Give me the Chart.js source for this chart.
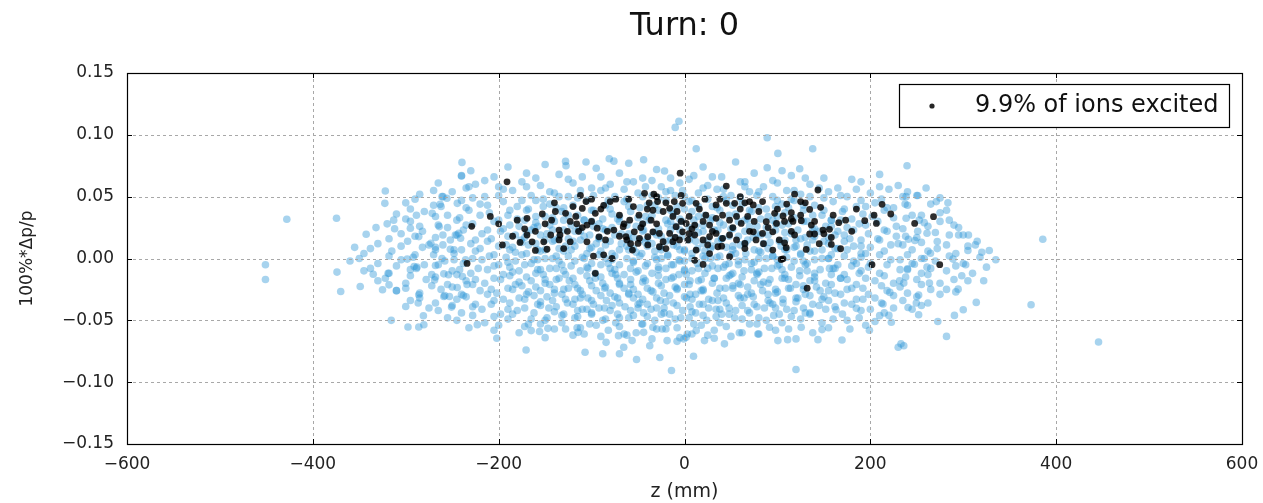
<!DOCTYPE html>
<html>
<head>
<meta charset="utf-8">
<script src="https://cdn.jsdelivr.net/npm/chart.js@4/dist/chart.umd.min.js"></script>
<style>
  html, body { margin: 0; padding: 0; background: #fff; }
  #wrap { width: 1263px; height: 503px; }
</style>
</head>
<body>
<div id="wrap"><canvas id="turnChart"></canvas></div>
<script>
// tick values
const zTicks = [-600, -400, -200, 0, 200, 400, 600];
const dpTicks = [-0.15, -0.10, -0.05, 0.00, 0.05, 0.10, 0.15];
const legendLabel = "9.9% of ions excited";

// excited ions [z (mm), 100%*dp/p]
const excited = [
    [-191, 0.062], [-229, 0.026], [-209, 0.034], [-234, -0.004], [-196, 0.011],
    [-180, 0.031], [-169.5, 0.0325], [-153, 0.036], [-139, 0.038], [-143, 0.031],
    [-128, 0.0365], [-123, 0.030], [-117, 0.034], [-112, 0.051], [-106, 0.046],
    [-110, 0.0405], [-116, 0.028], [-105, 0.027], [-96, 0.0365], [-94, 0.0245],
    [-87, 0.043], [-80, 0.046], [-74, 0.048], [-83, 0.022], [-76, 0.023],
    [-65, 0.028], [-62, 0.015], [-135, 0.023], [-134, 0.019], [-126, 0.022],
    [-114, 0.022], [-105, 0.0135], [-123, 0.0135], [-135, 0.015], [-144, 0.019],
    [-160.5, 0.022], [-169.5, 0.019], [-164, 0.0135], [-177, 0.013], [-151.5, 0.0135],
    [-160.5, 0.0065], [-148, 0.0075], [-98, 0.002], [-87, 0.003], [-78, 0.000],
    [-96, -0.012], [-92, 0.0175], [-85, 0.015],
    [-4.7, 0.069], [45, 0.0586], [-43, 0.0527], [-33, 0.052], [-60, 0.048],
    [-38, 0.045], [-29, 0.046], [-3.6, 0.051], [-2, 0.0446], [-11, 0.046],
    [12.5, 0.0446], [23, 0.035], [34, 0.0433], [45, 0.0446], [54, 0.0446],
    [65, 0.045], [74, 0.0433], [84, 0.046], [97, 0.0365], [106, 0.0344],
    [88, 0.0298], [99, 0.0284], [-59, 0.031], [-49, 0.035], [-45, 0.028],
    [-36, 0.031], [-34, 0.039], [-23, 0.038], [-16, 0.0406], [-12.5, 0.034],
    [-3.6, 0.030], [1.8, 0.0284], [5, 0.034], [11, 0.027], [20, 0.030],
    [27, 0.027], [34, 0.0325], [41, 0.035], [48.5, 0.031], [56, 0.034],
    [61, 0.0284], [68, 0.034], [75, 0.030], [-66, 0.0257], [-63, 0.0176],
    [-54, 0.0216], [-48.5, 0.0163], [-39.5, 0.0176], [-34, 0.0216], [-27, 0.0203],
    [-16, 0.0203], [-9, 0.0257], [-2, 0.0216], [-5.4, 0.015], [3.6, 0.015],
    [11, 0.019], [20, 0.015], [27, 0.0176], [34, 0.0203], [41, 0.0163],
    [48.5, 0.019], [56, 0.015], [65, 0.0122], [74, 0.0216], [77, 0.015],
    [84, 0.0203], [95, 0.0216], [102, 0.015], [-56, 0.0068], [-50, 0.0122],
    [-39.5, 0.011], [-27, 0.0095], [-23, 0.0136], [-12.5, 0.0136], [12.5, 0.0068],
    [25, 0.011], [27, 0.004], [36, 0.0095], [20, -0.0048], [48.5, 0.0014],
    [65, 0.008], [95, 0.0068], [104, -0.0008], [11, -0.0014],
    [118.5, 0.052], [143.6, 0.0554], [125, 0.046], [115, 0.037], [134.7, 0.0397],
    [146.5, 0.0414], [107.7, 0.030], [116.7, 0.030], [125.7, 0.0306], [136.5, 0.027],
    [166, 0.029], [173.4, 0.031], [194, 0.0306], [206.5, 0.0284], [204, 0.035],
    [212.6, 0.0438], [222, 0.036], [247.7, 0.0284], [268, 0.0338], [118.5, 0.019],
    [134.7, 0.0198], [140, 0.0198], [149, 0.023], [156, 0.0236], [158, 0.017],
    [107.7, 0.0127], [109.5, 0.0087], [131, 0.0073], [158, 0.0114], [168, 0.0079],
    [106, -0.0003], [201.8, -0.005], [274.7, -0.005], [132, -0.024],
    [-120, 0.042], [-100, 0.030], [-90, 0.040], [-70, 0.035], [-55, 0.042],
    [-47, 0.025], [-30, 0.028], [-20, 0.045], [-8, 0.038], [8, 0.024],
    [16, 0.040], [30, 0.022], [38, 0.048], [52, 0.025], [60, 0.040],
    [70, 0.022], [80, 0.038], [90, 0.025], [110, 0.044], [115, 0.022],
    [125, 0.035], [140, 0.030], [150, 0.020], [160, 0.035], [180, 0.022],
    [185, 0.040], [-150, 0.028], [-172, 0.024], [-140, 0.045], [-58, 0.012],
    [-20, 0.008], [5, 0.020], [40, 0.010], [85, 0.012], [-185, 0.018],
    [-200, 0.028], [-100, 0.048], [-30, 0.050], [60, 0.050], [130, 0.045],
    [-70, 0.018], [-10, 0.017], [115, 0.032], [-40, 0.040], [22, 0.048],
    [100, 0.040], [145, 0.012], [-130, 0.008], [-110, 0.025], [70, 0.046]
];

// ions, outer body of the bunch
const ionsCore = [
    [-190, 0.074], [-150, 0.076], [-95, 0.073], [-60, 0.077], [-30, 0.072], [20, 0.074], [55, 0.078], [105, 0.071], [-230, 0.071],
    [-240, 0.067], [-205, 0.066], [-170, 0.069], [-135, 0.068], [-110, 0.066], [-70, 0.069], [-45, 0.065], [10, 0.067], [40, 0.066],
    [75, 0.069], [115, 0.067], [150, 0.065], [210, 0.068],
    [-265, 0.061], [-225, 0.060], [-200, 0.058], [-175, 0.062], [-155, 0.059], [-120, 0.061], [-100, 0.057], [-80, 0.060], [-55, 0.062],
    [-25, 0.058], [-5, 0.061], [25, 0.059], [60, 0.062], [85, 0.058], [100, 0.061], [135, 0.060], [165, 0.057], [190, 0.062],
    [230, 0.059], [260, 0.057],
    [-285, 0.052], [-250, 0.054], [-215, 0.050], [-185, 0.055], [-165, 0.051], [-140, 0.053], [-125, 0.050], [-90, 0.055], [-75, 0.050],
    [-50, 0.053], [-35, 0.051], [-15, 0.055], [0, 0.050], [15, 0.053], [35, 0.056], [50, 0.051], [70, 0.054], [95, 0.050],
    [110, 0.055], [125, 0.052], [155, 0.054], [175, 0.050], [200, 0.053], [220, 0.056], [250, 0.051],
    [-300, 0.045], [-270, 0.043], [-240, 0.047], [-220, 0.044], [-195, 0.046], [-180, 0.042], [-160, 0.047], [-145, 0.044], [-130, 0.041],
    [-105, 0.047], [-85, 0.043], [-65, 0.046], [-40, 0.043], [-20, 0.047], [-8, 0.042], [5, 0.046], [30, 0.042], [45, 0.047],
    [62, 0.044], [80, 0.041], [105, 0.044], [118, 0.047], [140, 0.043], [160, 0.046], [185, 0.042], [205, 0.045], [225, 0.041], [265, 0.044],
    [-310, 0.036], [-280, 0.038], [-255, 0.035], [-232, 0.039], [-210, 0.037], [-190, 0.035], [-170, 0.039], [-150, 0.034], [-132, 0.038],
    [-115, 0.035], [-98, 0.039], [-78, 0.036], [-58, 0.038], [-42, 0.034], [-28, 0.039], [-12, 0.036], [8, 0.038], [22, 0.035],
    [38, 0.039], [55, 0.036], [72, 0.038], [90, 0.034], [108, 0.037], [128, 0.039], [148, 0.035], [170, 0.038], [192, 0.036],
    [215, 0.039], [245, 0.035], [275, 0.037],
    [-320, 0.028], [-295, 0.030], [-265, 0.027], [-245, 0.031], [-228, 0.028], [-205, 0.030], [-188, 0.027], [-172, 0.031], [-158, 0.026],
    [-140, 0.030], [-122, 0.027], [-108, 0.031], [-92, 0.028], [-70, 0.030], [-52, 0.026], [-38, 0.031], [-18, 0.028], [-3, 0.030],
    [12, 0.026], [28, 0.031], [42, 0.027], [58, 0.030], [78, 0.026], [95, 0.031], [112, 0.028], [132, 0.030], [152, 0.026],
    [168, 0.031], [188, 0.028], [208, 0.030], [228, 0.026], [258, 0.029], [290, 0.027],
    [-305, 0.020], [-282, 0.022], [-260, 0.019], [-238, 0.023], [-218, 0.020], [-198, 0.022], [-182, 0.019], [-165, 0.023], [-148, 0.020],
    [-135, 0.017], [-118, 0.022], [-102, 0.019], [-85, 0.023], [-68, 0.020], [-55, 0.017], [-45, 0.022], [-30, 0.019], [-15, 0.023],
    [-2, 0.018], [15, 0.021], [32, 0.023], [48, 0.018], [65, 0.022], [82, 0.019], [98, 0.023], [115, 0.020], [130, 0.017],
    [145, 0.022], [162, 0.019], [182, 0.023], [198, 0.020], [218, 0.022], [238, 0.018], [270, 0.021], [300, 0.019],
    [-330, 0.012], [-298, 0.014], [-275, 0.011], [-252, 0.015], [-230, 0.012], [-212, 0.014], [-192, 0.011], [-176, 0.015], [-160, 0.012],
    [-142, 0.014], [-128, 0.010], [-112, 0.015], [-95, 0.012], [-80, 0.014], [-62, 0.010], [-48, 0.015], [-35, 0.012], [-20, 0.014],
    [-8, 0.010], [5, 0.015], [20, 0.012], [36, 0.014], [52, 0.010], [68, 0.015], [85, 0.012], [102, 0.014], [120, 0.010],
    [138, 0.015], [155, 0.012], [172, 0.014], [190, 0.010], [210, 0.015], [230, 0.012], [255, 0.013], [282, 0.011], [315, 0.014],
    [-345, 0.004], [-315, 0.006], [-290, 0.003], [-268, 0.007], [-248, 0.004], [-225, 0.006], [-205, 0.003], [-188, 0.007], [-170, 0.004],
    [-155, 0.006], [-138, 0.002], [-122, 0.007], [-105, 0.004], [-90, 0.006], [-75, 0.002], [-60, 0.007], [-46, 0.004], [-32, 0.006],
    [-18, 0.002], [-5, 0.007], [8, 0.004], [22, 0.006], [38, 0.002], [52, 0.007], [66, 0.004], [80, 0.006], [95, 0.002],
    [110, 0.007], [125, 0.004], [140, 0.006], [158, 0.003], [175, 0.007], [195, 0.004], [215, 0.006], [240, 0.003], [262, 0.006],
    [292, 0.004], [320, 0.005],
    [-360, -0.002], [-330, -0.004], [-305, -0.001], [-280, -0.005], [-258, -0.002], [-238, -0.004], [-218, -0.001], [-200, -0.005], [-182, -0.002],
    [-165, -0.004], [-150, 0.000], [-132, -0.005], [-118, -0.002], [-100, -0.004], [-85, 0.000], [-70, -0.005], [-55, -0.002], [-40, -0.004],
    [-25, 0.000], [-12, -0.005], [0, -0.002], [14, -0.004], [28, 0.000], [44, -0.005], [58, -0.002], [72, -0.004], [88, 0.000],
    [102, -0.005], [118, -0.002], [132, -0.004], [148, 0.000], [165, -0.005], [182, -0.002], [200, -0.004], [222, -0.001], [245, -0.004],
    [270, -0.002], [300, -0.004], [335, -0.001],
    [-345, -0.010], [-318, -0.012], [-295, -0.009], [-272, -0.013], [-250, -0.010], [-230, -0.012], [-212, -0.009], [-195, -0.013], [-178, -0.010],
    [-160, -0.012], [-145, -0.008], [-128, -0.013], [-112, -0.010], [-96, -0.012], [-80, -0.008], [-65, -0.013], [-50, -0.010], [-35, -0.012],
    [-20, -0.008], [-6, -0.013], [8, -0.010], [22, -0.012], [36, -0.008], [50, -0.013], [64, -0.010], [78, -0.012], [94, -0.008],
    [108, -0.013], [124, -0.010], [140, -0.012], [156, -0.008], [172, -0.013], [190, -0.010], [210, -0.012], [232, -0.009], [255, -0.012],
    [282, -0.010], [310, -0.012],
    [-330, -0.018], [-300, -0.020], [-278, -0.017], [-255, -0.021], [-235, -0.018], [-215, -0.020], [-198, -0.017], [-182, -0.021], [-165, -0.018],
    [-150, -0.020], [-135, -0.016], [-118, -0.021], [-102, -0.018], [-88, -0.020], [-72, -0.016], [-58, -0.021], [-42, -0.018], [-28, -0.020],
    [-14, -0.016], [0, -0.021], [15, -0.018], [30, -0.020], [45, -0.016], [60, -0.021], [75, -0.018], [90, -0.020], [105, -0.016],
    [120, -0.021], [135, -0.018], [152, -0.020], [168, -0.016], [185, -0.021], [205, -0.018], [225, -0.020], [250, -0.017], [275, -0.020],
    [305, -0.018],
    [-310, -0.026], [-285, -0.028], [-262, -0.025], [-240, -0.029], [-220, -0.026], [-202, -0.028], [-185, -0.025], [-170, -0.029], [-155, -0.026],
    [-140, -0.028], [-125, -0.024], [-110, -0.029], [-95, -0.026], [-80, -0.028], [-65, -0.024], [-50, -0.029], [-36, -0.026], [-22, -0.028],
    [-8, -0.024], [6, -0.029], [20, -0.026], [35, -0.028], [52, -0.024], [68, -0.029], [84, -0.026], [98, -0.028], [114, -0.024],
    [130, -0.029], [146, -0.026], [162, -0.028], [180, -0.024], [198, -0.029], [218, -0.026], [240, -0.028], [265, -0.025], [292, -0.027],
    [-295, -0.034], [-268, -0.036], [-245, -0.033], [-225, -0.037], [-205, -0.034], [-188, -0.036], [-172, -0.033], [-158, -0.037], [-142, -0.034],
    [-126, -0.036], [-112, -0.032], [-98, -0.037], [-84, -0.034], [-70, -0.036], [-55, -0.032], [-40, -0.037], [-26, -0.034], [-12, -0.036],
    [2, -0.032], [16, -0.037], [30, -0.034], [45, -0.036], [60, -0.032], [75, -0.037], [90, -0.034], [106, -0.036], [122, -0.032],
    [138, -0.037], [155, -0.034], [172, -0.036], [192, -0.033], [212, -0.036], [235, -0.034], [262, -0.036],
    [-265, -0.042], [-240, -0.044], [-218, -0.041], [-198, -0.045], [-180, -0.042], [-162, -0.044], [-146, -0.040], [-130, -0.045], [-115, -0.042],
    [-100, -0.044], [-86, -0.040], [-72, -0.045], [-58, -0.042], [-44, -0.044], [-30, -0.040], [-16, -0.045], [-2, -0.042], [12, -0.044],
    [26, -0.040], [40, -0.045], [55, -0.042], [70, -0.044], [86, -0.040], [102, -0.045], [118, -0.042], [135, -0.044], [152, -0.041],
    [170, -0.045], [190, -0.042], [215, -0.044], [245, -0.041],
    [-245, -0.050], [-215, -0.052], [-190, -0.049], [-168, -0.053], [-150, -0.050], [-132, -0.052], [-118, -0.048], [-102, -0.053], [-88, -0.050],
    [-74, -0.052], [-60, -0.048], [-46, -0.053], [-32, -0.050], [-18, -0.052], [-4, -0.048], [10, -0.053], [24, -0.050], [38, -0.052],
    [54, -0.048], [70, -0.053], [88, -0.050], [105, -0.052], [125, -0.049], [148, -0.052], [175, -0.050], [205, -0.051],
    [-205, -0.058], [-178, -0.060], [-140, -0.057], [-108, -0.061], [-82, -0.058], [-52, -0.060], [-20, -0.057], [8, -0.061], [32, -0.058],
    [62, -0.060], [98, -0.058], [138, -0.060], [178, -0.057]
];

// ions, filling between the rows above
const ionsMid = [
    [-215, 0.063], [-160, 0.065], [-125, 0.064], [-90, 0.066], [-62, 0.062], [-35, 0.063], [-15, 0.065], [5, 0.064], [30, 0.066],
    [65, 0.062], [95, 0.063], [130, 0.065], [180, 0.064],
    [-270, 0.055], [-235, 0.057], [-195, 0.056], [-170, 0.058], [-145, 0.054], [-112, 0.055], [-85, 0.057], [-65, 0.056], [-42, 0.058],
    [-20, 0.054], [-2, 0.055], [20, 0.057], [42, 0.056], [65, 0.058], [80, 0.054], [118, 0.055], [145, 0.057], [185, 0.056],
    [210, 0.058], [240, 0.054],
    [-290, 0.048], [-260, 0.050], [-228, 0.049], [-200, 0.051], [-175, 0.047], [-152, 0.048], [-135, 0.050], [-115, 0.049], [-98, 0.051],
    [-82, 0.047], [-62, 0.048], [-45, 0.050], [-28, 0.049], [-10, 0.051], [8, 0.047], [25, 0.048], [42, 0.050], [60, 0.049],
    [78, 0.051], [100, 0.047], [115, 0.048], [135, 0.050], [150, 0.049], [168, 0.051], [190, 0.047], [212, 0.048], [235, 0.050], [275, 0.049],
    [-295, 0.040], [-262, 0.042], [-235, 0.041], [-212, 0.043], [-188, 0.039], [-168, 0.040], [-152, 0.042], [-138, 0.041], [-120, 0.043],
    [-100, 0.039], [-80, 0.040], [-60, 0.042], [-48, 0.041], [-32, 0.043], [-15, 0.039], [0, 0.040], [15, 0.042], [35, 0.041],
    [52, 0.043], [70, 0.039], [88, 0.040], [98, 0.042], [112, 0.041], [128, 0.043], [150, 0.039], [172, 0.040], [195, 0.042],
    [218, 0.041], [240, 0.043], [282, 0.039],
    [-300, 0.032], [-268, 0.034], [-242, 0.033], [-220, 0.035], [-200, 0.031], [-180, 0.032], [-160, 0.034], [-142, 0.033], [-125, 0.035],
    [-108, 0.031], [-88, 0.032], [-70, 0.034], [-50, 0.033], [-35, 0.035], [-20, 0.031], [-5, 0.032], [15, 0.034], [30, 0.033],
    [48, 0.035], [65, 0.031], [82, 0.032], [100, 0.034], [118, 0.033], [138, 0.035], [158, 0.031], [180, 0.032], [202, 0.034],
    [225, 0.033], [255, 0.035], [285, 0.031],
    [-312, 0.024], [-285, 0.026], [-255, 0.025], [-235, 0.027], [-212, 0.023], [-195, 0.024], [-178, 0.026], [-162, 0.025], [-145, 0.027],
    [-130, 0.023], [-114, 0.024], [-98, 0.026], [-78, 0.025], [-62, 0.027], [-44, 0.023], [-28, 0.024], [-10, 0.026], [5, 0.025],
    [20, 0.027], [36, 0.023], [52, 0.024], [70, 0.026], [88, 0.025], [105, 0.027], [122, 0.023], [140, 0.024], [158, 0.026],
    [175, 0.025], [195, 0.027], [215, 0.023], [235, 0.024], [262, 0.026], [295, 0.025],
    [-318, 0.016], [-290, 0.018], [-268, 0.017], [-245, 0.019], [-225, 0.015], [-208, 0.016], [-190, 0.018], [-172, 0.017], [-155, 0.019],
    [-140, 0.015], [-125, 0.016], [-108, 0.018], [-92, 0.017], [-75, 0.019], [-60, 0.015], [-40, 0.016], [-25, 0.018], [-10, 0.017],
    [8, 0.019], [25, 0.015], [40, 0.016], [58, 0.018], [74, 0.017], [90, 0.019], [108, 0.015], [125, 0.016], [140, 0.018],
    [155, 0.017], [172, 0.019], [190, 0.015], [208, 0.016], [228, 0.018], [250, 0.017], [285, 0.019],
    [-338, 0.008], [-305, 0.010], [-282, 0.009], [-260, 0.011], [-240, 0.007], [-220, 0.008], [-200, 0.010], [-185, 0.009], [-168, 0.011],
    [-150, 0.007], [-135, 0.008], [-118, 0.010], [-100, 0.009], [-85, 0.011], [-70, 0.007], [-55, 0.008], [-40, 0.010], [-26, 0.009],
    [-12, 0.011], [0, 0.007], [14, 0.008], [30, 0.010], [45, 0.009], [60, 0.011], [75, 0.007], [90, 0.008], [104, 0.010],
    [118, 0.009], [132, 0.011], [148, 0.007], [165, 0.008], [182, 0.010], [200, 0.009], [222, 0.011], [245, 0.007], [272, 0.008], [305, 0.010],
    [-350, 0.000], [-318, 0.002], [-292, 0.001], [-270, 0.003], [-248, -0.001], [-228, 0.000], [-210, 0.002], [-192, 0.001], [-175, 0.003],
    [-158, -0.001], [-142, 0.000], [-125, 0.002], [-110, 0.001], [-92, 0.003], [-78, -0.001], [-62, 0.000], [-48, 0.002], [-32, 0.001],
    [-18, 0.003], [-6, -0.001], [8, 0.000], [20, 0.002], [35, 0.001], [50, 0.003], [65, -0.001], [80, 0.000], [95, 0.002],
    [110, 0.001], [125, 0.003], [140, -0.001], [155, 0.000], [172, 0.002], [190, 0.001], [210, 0.003], [232, -0.001], [255, 0.000],
    [285, 0.002], [318, 0.001],
    [-338, -0.008], [-310, -0.006], [-288, -0.007], [-265, -0.005], [-242, -0.009], [-222, -0.008], [-205, -0.006], [-188, -0.007], [-172, -0.005],
    [-155, -0.009], [-138, -0.008], [-122, -0.006], [-105, -0.007], [-90, -0.005], [-75, -0.009], [-58, -0.008], [-42, -0.006], [-28, -0.007],
    [-14, -0.005], [0, -0.009], [15, -0.008], [30, -0.006], [42, -0.007], [58, -0.005], [72, -0.009], [86, -0.008], [100, -0.006],
    [115, -0.007], [130, -0.005], [146, -0.009], [162, -0.008], [180, -0.006], [198, -0.007], [218, -0.005], [240, -0.009], [265, -0.008],
    [292, -0.006], [325, -0.007],
    [-322, -0.016], [-295, -0.014], [-268, -0.015], [-245, -0.013], [-225, -0.017], [-205, -0.016], [-188, -0.014], [-170, -0.015], [-152, -0.013],
    [-138, -0.017], [-120, -0.016], [-105, -0.014], [-90, -0.015], [-74, -0.013], [-58, -0.017], [-44, -0.016], [-28, -0.014], [-12, -0.015],
    [2, -0.013], [18, -0.017], [32, -0.016], [48, -0.014], [62, -0.015], [78, -0.013], [92, -0.017], [108, -0.016], [124, -0.014],
    [140, -0.015], [158, -0.013], [175, -0.017], [195, -0.016], [215, -0.014], [238, -0.015], [262, -0.013], [290, -0.017],
    [-300, -0.024], [-272, -0.022], [-250, -0.023], [-228, -0.021], [-208, -0.025], [-190, -0.024], [-175, -0.022], [-160, -0.023], [-145, -0.021],
    [-130, -0.025], [-115, -0.024], [-100, -0.022], [-85, -0.023], [-70, -0.021], [-55, -0.025], [-40, -0.024], [-25, -0.022], [-10, -0.023],
    [5, -0.021], [20, -0.025], [38, -0.024], [52, -0.022], [68, -0.023], [82, -0.021], [98, -0.025], [112, -0.024], [128, -0.022],
    [142, -0.023], [158, -0.021], [175, -0.025], [192, -0.024], [212, -0.022], [232, -0.023], [255, -0.021], [282, -0.025],
    [-285, -0.032], [-258, -0.030], [-235, -0.031], [-212, -0.029], [-195, -0.033], [-178, -0.032], [-162, -0.030], [-148, -0.031], [-132, -0.029],
    [-118, -0.033], [-104, -0.032], [-90, -0.030], [-75, -0.031], [-60, -0.029], [-45, -0.033], [-30, -0.032], [-16, -0.030], [0, -0.031],
    [12, -0.029], [26, -0.033], [42, -0.032], [58, -0.030], [74, -0.031], [90, -0.029], [106, -0.033], [120, -0.032], [135, -0.030],
    [150, -0.031], [168, -0.029], [185, -0.033], [205, -0.032], [225, -0.030], [250, -0.031], [275, -0.029],
    [-275, -0.040], [-250, -0.038], [-228, -0.039], [-208, -0.037], [-190, -0.041], [-172, -0.040], [-155, -0.038], [-138, -0.039], [-120, -0.037],
    [-105, -0.041], [-92, -0.040], [-78, -0.038], [-64, -0.039], [-50, -0.037], [-36, -0.041], [-22, -0.040], [-8, -0.038], [6, -0.039],
    [20, -0.037], [34, -0.041], [48, -0.040], [62, -0.038], [78, -0.039], [95, -0.037], [110, -0.041], [128, -0.040], [145, -0.038],
    [162, -0.039], [180, -0.037], [200, -0.041], [225, -0.040], [255, -0.038],
    [-255, -0.048], [-228, -0.046], [-205, -0.047], [-185, -0.045], [-165, -0.049], [-148, -0.048], [-132, -0.046], [-115, -0.047], [-100, -0.045],
    [-85, -0.049], [-70, -0.048], [-55, -0.046], [-40, -0.047], [-25, -0.045], [-10, -0.049], [5, -0.048], [20, -0.046], [34, -0.047],
    [48, -0.045], [62, -0.049], [80, -0.048], [96, -0.046], [115, -0.047], [135, -0.045], [160, -0.049], [188, -0.048], [220, -0.046],
    [-232, -0.056], [-200, -0.054], [-172, -0.055], [-155, -0.053], [-128, -0.057], [-112, -0.056], [-95, -0.054], [-70, -0.055], [-45, -0.053],
    [-30, -0.057], [-8, -0.056], [18, -0.054], [45, -0.055], [78, -0.053], [112, -0.057], [155, -0.056], [195, -0.054],
    [-150, -0.064], [-120, -0.062], [-90, -0.063], [-65, -0.061], [-35, -0.065], [-5, -0.064], [25, -0.062], [50, -0.063], [80, -0.061], [120, -0.065]
];

// ions, saturated centre of the bunch
const ionsInner = [
    [-160, 0.029], [-130, 0.031], [-100, 0.030], [-72, 0.032], [-45, 0.028], [-15, 0.030], [10, 0.031], [38, 0.029], [68, 0.032],
    [98, 0.028], [128, 0.030], [158, 0.031],
    [-170, 0.021], [-142, 0.023], [-112, 0.022], [-88, 0.024], [-60, 0.020], [-33, 0.021], [-5, 0.023], [20, 0.022], [50, 0.024],
    [78, 0.020], [108, 0.021], [138, 0.023], [165, 0.022],
    [-175, 0.013], [-150, 0.015], [-120, 0.014], [-92, 0.016], [-68, 0.012], [-42, 0.013], [-15, 0.015], [12, 0.014], [40, 0.016],
    [65, 0.012], [92, 0.013], [120, 0.015], [150, 0.014], [178, 0.016],
    [-182, 0.005], [-158, 0.007], [-130, 0.006], [-102, 0.008], [-78, 0.004], [-52, 0.005], [-25, 0.007], [0, 0.006], [28, 0.008],
    [55, 0.004], [82, 0.005], [108, 0.007], [135, 0.006], [162, 0.008], [190, 0.004],
    [-190, -0.003], [-162, -0.001], [-135, -0.002], [-108, 0.000], [-82, -0.004], [-55, -0.003], [-30, -0.001], [-5, -0.002], [22, 0.000],
    [48, -0.004], [75, -0.003], [100, -0.001], [128, -0.002], [155, 0.000], [185, -0.004],
    [-185, -0.011], [-158, -0.009], [-130, -0.010], [-104, -0.008], [-78, -0.012], [-52, -0.011], [-28, -0.009], [0, -0.010], [25, -0.008],
    [52, -0.012], [80, -0.011], [105, -0.009], [132, -0.010], [160, -0.008], [188, -0.012],
    [-178, -0.019], [-150, -0.017], [-124, -0.018], [-96, -0.016], [-70, -0.020], [-45, -0.019], [-20, -0.017], [6, -0.018], [32, -0.016],
    [58, -0.020], [85, -0.019], [112, -0.017], [140, -0.018], [168, -0.016],
    [-168, -0.027], [-140, -0.025], [-112, -0.026], [-86, -0.024], [-60, -0.028], [-34, -0.027], [-8, -0.025], [18, -0.026], [44, -0.024],
    [72, -0.028], [100, -0.027], [128, -0.025], [155, -0.026],
    [-155, -0.035], [-128, -0.033], [-100, -0.034], [-72, -0.032], [-48, -0.036], [-20, -0.035], [8, -0.033], [36, -0.034], [64, -0.032],
    [92, -0.036], [120, -0.035], [148, -0.033],
    [-140, -0.043], [-110, -0.041], [-80, -0.042], [-50, -0.040], [-22, -0.044], [8, -0.043], [38, -0.041], [68, -0.042], [98, -0.040], [130, -0.044]
];

// ions, sparse tails of the bunch
const ionsTail = [
    [-428, 0.0317], [-451, -0.005], [-451, -0.017], [-374.5, 0.0325], [-355, 0.009], [-342.6, 0.0196], [-332, 0.025],
    [-322, 0.0546], [-322.5, 0.0446], [-313, 0.031], [-374, -0.011], [-370, -0.0267], [-349, -0.0226], [-335, -0.0127],
    [-319, -0.012], [-325, -0.0253], [-318, -0.0213], [-310, -0.026], [-315.6, -0.050], [-300, -0.0388], [-297.6, -0.0554],
    [-286, -0.0554], [-281, -0.0463], [-280.5, -0.0536], [-286.6, -0.036], [-286, -0.0293], [-298.4, -0.0005], [-291, -0.0065],
    [-288.5, -0.008], [-295, 0.0245], [-288.5, 0.035], [-286, 0.0177], [-271.5, 0.0365], [-264, 0.0258], [-273, 0.0123],
    [-268, 0.009], [-263, 0.0438], [-261, 0.050], [-255.7, 0.0487], [-244.5, 0.0446], [-240, 0.0667], [-239.5, 0.0777],
    [-232, 0.058], [-268, -0.0057], [-269, -0.0173], [-259, -0.0124], [-254, -0.0132], [-259, -0.0307], [-253, -0.0307],
    [-250.7, -0.0393], [-244.6, -0.0234], [-239, -0.0146], [-238, -0.0299], [-261, 0.000], [-252, 0.0075], [-248, 0.007],
    [-246.6, 0.019], [-243, 0.0204], [-241, 0.0164], [-235.6, -0.001], [-234, -0.021],
    [239.5, 0.075], [238.5, 0.050], [251, 0.051], [237.4, 0.044], [271, 0.046], [283.5, 0.045], [238.5, 0.0325],
    [252.6, 0.031], [275, 0.030], [251, 0.022], [261, 0.0204], [241, 0.0156], [248, 0.0145], [235, 0.011],
    [272, 0.0137], [295, 0.019], [305.6, 0.019], [313, 0.011], [305, 0.0065], [328, 0.0065], [385.6, 0.0156],
    [264.7, 0.0043], [258, 0.000], [289, -0.0005], [302.6, -0.005], [240, -0.0083], [247.4, -0.0046], [261, -0.007],
    [298.4, -0.014], [322, -0.018], [236, -0.0199], [263.6, -0.0199], [294.5, -0.0248], [252, -0.0296], [249.5, -0.036],
    [240.6, -0.0396], [314, -0.0355], [300, -0.0415], [290.5, -0.046], [252, -0.0455], [272.6, -0.051], [373, -0.0374],
    [282, -0.063], [236, -0.0705], [445.6, -0.0675],
    [-6, 0.111], [-10, 0.106], [12.6, 0.0887], [89, 0.0976], [100.5, 0.085], [138, 0.0887], [-128, 0.0785],
    [-106, 0.078], [-81, 0.0806], [-76, 0.0787], [-44, 0.0798], [-127.5, 0.075], [-21.5, 0.0707], [89, 0.0734], [124, 0.0726],
    [-223, -0.0535], [-202, -0.0645], [-170.5, -0.074], [-165, -0.0583], [-156, -0.059], [-147, -0.0565], [-115.6, -0.056],
    [-114.6, -0.0597], [-107, -0.0758], [-88, -0.077], [-84.4, -0.0678], [-71, -0.0624], [-70, -0.077], [-65.4, -0.0718],
    [-62, -0.062], [-56.4, -0.0664], [-51.6, -0.0817], [-44, -0.0597], [-37.4, -0.0705], [-34, -0.0556], [-26.6, -0.080],
    [-24, -0.057], [-18.7, -0.0664], [-14, -0.0906], [-8, -0.067], [-0.75, -0.065], [3, -0.061],
    [9.7, -0.079], [21.5, -0.0664], [1.8, -0.0637], [12.6, -0.0583], [32, -0.0645], [43, -0.069], [59, -0.060],
    [79, -0.061], [91.5, -0.0556], [100.5, -0.0664], [111, -0.0656], [120, -0.0898], [125.6, -0.0556], [143.6, -0.0656],
    [148, -0.0575], [169.5, -0.0659], [163, -0.0414], [185, -0.0403], [199, -0.058], [222.6, -0.0516], [230, -0.0718],
    [233, -0.069], [231.5, -0.018], [221, -0.0274], [213.6, -0.0368], [210, -0.0462]
];

const toXY = (pts) => pts.map((p) => ({ x: p[0], y: p[1] }));
const minus = (s) => s.replace("-", "\u2212");

// matplotlib-like frame: dashed grid on top of points, box, inner ticks, legend, title
const framePlugin = {
    id: "frame",
    afterDatasetsDraw(chart) {
        const { ctx, chartArea: a, scales } = chart;
        ctx.save();
        ctx.strokeStyle = "#a8a8a8";
        ctx.lineWidth = 1;
        ctx.setLineDash([3, 3]);
        zTicks.forEach((t) => {
            const x = Math.round(scales.x.getPixelForValue(t)) + 0.5;
            ctx.beginPath(); ctx.moveTo(x, a.top); ctx.lineTo(x, a.bottom); ctx.stroke();
        });
        dpTicks.forEach((t) => {
            const y = Math.round(scales.y.getPixelForValue(t)) + 0.5;
            ctx.beginPath(); ctx.moveTo(a.left, y); ctx.lineTo(a.right, y); ctx.stroke();
        });
        ctx.setLineDash([]);
        ctx.strokeStyle = "#000";
        zTicks.forEach((t) => {
            const x = Math.round(scales.x.getPixelForValue(t)) + 0.5;
            ctx.beginPath(); ctx.moveTo(x, a.bottom); ctx.lineTo(x, a.bottom - 5); ctx.stroke();
            ctx.beginPath(); ctx.moveTo(x, a.top); ctx.lineTo(x, a.top + 5); ctx.stroke();
        });
        dpTicks.forEach((t) => {
            const y = Math.round(scales.y.getPixelForValue(t)) + 0.5;
            ctx.beginPath(); ctx.moveTo(a.left, y); ctx.lineTo(a.left + 5, y); ctx.stroke();
            ctx.beginPath(); ctx.moveTo(a.right, y); ctx.lineTo(a.right - 5, y); ctx.stroke();
        });
        ctx.lineWidth = 1.2;
        ctx.strokeRect(a.left + 0.5, a.top + 0.5, a.right - a.left, a.bottom - a.top);

        // legend box, top right
        const w = 330, h = 43;
        const lx = a.right - 13 - w, ly = a.top + 11;
        ctx.fillStyle = "#fff";
        ctx.fillRect(lx, ly, w, h);
        ctx.lineWidth = 1.2;
        ctx.strokeRect(lx + 0.5, ly + 0.5, w, h);
        ctx.fillStyle = "rgba(0,0,0,0.85)";
        ctx.beginPath(); ctx.arc(lx + 33, ly + 22, 2.6, 0, Math.PI * 2); ctx.fill();
        ctx.fillStyle = "#111";
        ctx.font = "24px 'DejaVu Sans'";
        ctx.textBaseline = "middle";
        ctx.fillText(legendLabel, lx + 76, ly + 22);

        // title
        ctx.font = "32px 'DejaVu Sans'";
        ctx.textAlign = "center";
        ctx.fillText("Turn: 0", (a.left + a.right) / 2, 27);
        ctx.restore();
    },
};

const ctx = document.getElementById("turnChart");
new Chart(ctx, {
    type: "scatter",
    data: {
        datasets: [
            {
                label: legendLabel,
                data: toXY(excited),
                backgroundColor: "rgba(0,0,0,0.82)",
                borderWidth: 0,
                pointRadius: 3.4,
                order: 0,
            },
            {
                label: "ions",
                data: toXY(ionsCore.concat(ionsMid, ionsInner, ionsTail)),
                backgroundColor: "rgba(45,150,215,0.42)",
                borderWidth: 0,
                pointRadius: 3.8,
                order: 1,
            },
        ],
    },
    options: {
        responsive: true,
        maintainAspectRatio: false,
        animation: false,
        events: [],
        layout: { padding: { top: 73, right: 21, left: 0, bottom: 0 } },
        plugins: {
            legend: { display: false },
            title: { display: false },
            tooltip: { enabled: false },
        },
        scales: {
            x: {
                type: "linear",
                min: -600,
                max: 600,
                afterBuildTicks: (s) => { s.ticks = zTicks.map((v) => ({ value: v })); },
                afterFit: (s) => { s.height = 59; s.paddingLeft = 0; s.paddingRight = 0; },
                grid: { display: false, drawTicks: false },
                border: { display: false },
                ticks: {
                    padding: 10,
                    color: "#222",
                    font: { family: "DejaVu Sans", size: 17 },
                    callback: (v) => minus(String(v)),
                },
                title: {
                    display: true,
                    text: "z (mm)",
                    color: "#222",
                    font: { family: "DejaVu Sans", size: 19 },
                    padding: { top: 2, bottom: 0 },
                },
            },
            y: {
                type: "linear",
                min: -0.15,
                max: 0.15,
                afterBuildTicks: (s) => { s.ticks = dpTicks.map((v) => ({ value: v })); },
                afterFit: (s) => { s.width = 127; s.paddingTop = 0; s.paddingBottom = 0; },
                grid: { display: false, drawTicks: false },
                border: { display: false },
                ticks: {
                    padding: 13,
                    color: "#222",
                    font: { family: "DejaVu Sans", size: 17 },
                    callback: (v) => minus(v.toFixed(2)),
                },
                title: {
                    display: true,
                    text: "100%*\u0394p/p",
                    color: "#222",
                    font: { family: "DejaVu Sans", size: 17 },
                    padding: { top: 17, bottom: 0 },
                },
            },
        },
    },
    plugins: [framePlugin],
});
</script>
</body>
</html>
